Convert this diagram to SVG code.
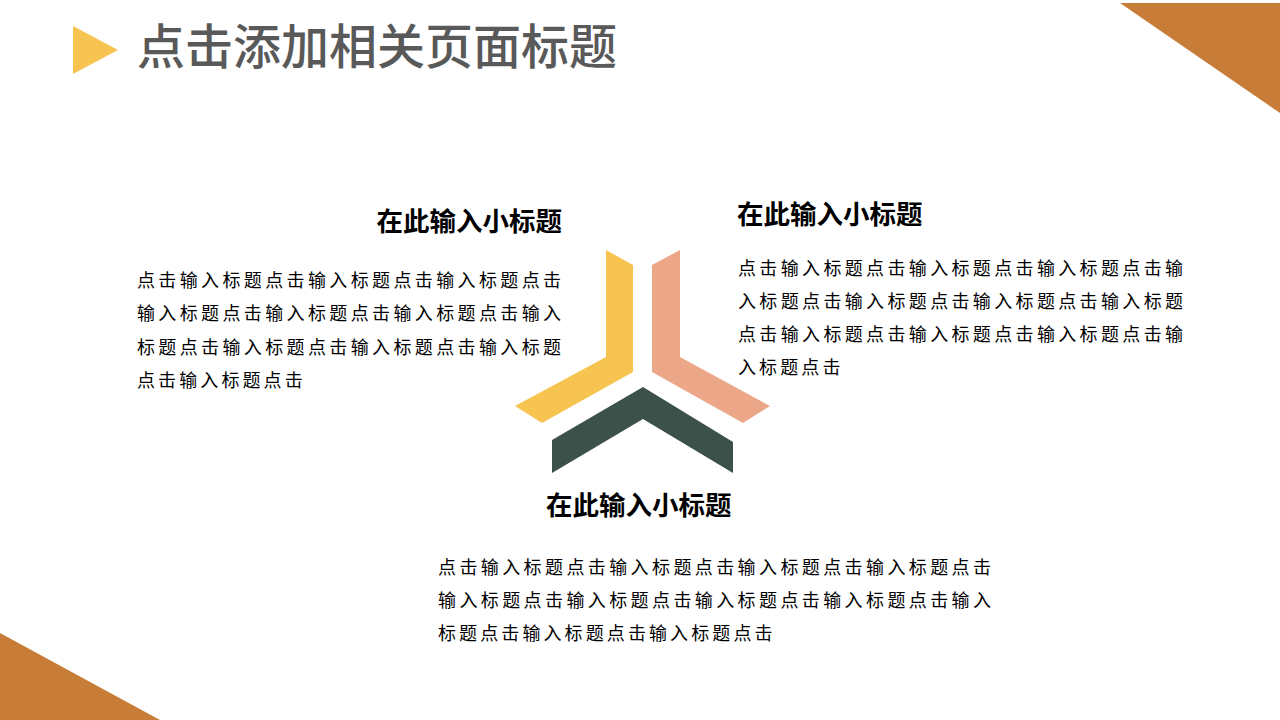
<svg xmlns="http://www.w3.org/2000/svg" width="1280" height="720" viewBox="0 0 1280 720">
<style>
.title{font-family:"Noto Sans CJK SC","Noto Sans",sans-serif;font-size:48px;font-weight:500;fill:#595959}
.sub{font-family:"Noto Sans CJK SC","Noto Sans",sans-serif;font-size:26.5px;font-weight:bold;fill:#000}
.body{font-family:"Noto Sans CJK SC","Noto Sans",sans-serif;font-size:18px;fill:#000}
.last{letter-spacing:3.1px}
</style>
<rect width="1280" height="720" fill="#fff"/>
<g id="corners">
<polygon points="1120,3 1280,3 1280,113" fill="#C77D37"/>
<polygon points="0,633 160,720 0,720" fill="#C77D37"/>
</g>
<g id="title">
<polygon points="73,26 118,50 73,74" fill="#F7C452"/>
<text class="title" x="137" y="64">点击添加相关页面标题</text>
</g>
<g id="center-shape">
<polygon id="arm-yellow" points="606,250 633,265 633,372 542,423 515,406 606,357" fill="#F7C452"/>
<polygon id="arm-pink" points="680,250 652,265 652,372 743,423 770,406 680,357" fill="#EBA788"/>
<polygon id="arm-dark" points="643,387 733,442 733,473 643,419 552,473 552,440" fill="#3B5149"/>
</g>
<g id="node-left">
<text class="sub" x="562" y="231" text-anchor="end">在此输入小标题</text>
<text class="body" x="137" y="287" textLength="424" lengthAdjust="spacing">点击输入标题点击输入标题点击输入标题点击</text>
<text class="body" x="137" y="320" textLength="424" lengthAdjust="spacing">输入标题点击输入标题点击输入标题点击输入</text>
<text class="body" x="137" y="353.5" textLength="424" lengthAdjust="spacing">标题点击输入标题点击输入标题点击输入标题</text>
<text class="body last" x="137" y="387">点击输入标题点击</text>
</g>
<g id="node-right">
<text class="sub" x="737" y="224">在此输入小标题</text>
<text class="body" x="738" y="274.5" textLength="445" lengthAdjust="spacing">点击输入标题点击输入标题点击输入标题点击输</text>
<text class="body" x="738" y="307.5" textLength="445" lengthAdjust="spacing">入标题点击输入标题点击输入标题点击输入标题</text>
<text class="body" x="738" y="341" textLength="445" lengthAdjust="spacing">点击输入标题点击输入标题点击输入标题点击输</text>
<text class="body last" x="738" y="374">入标题点击</text>
</g>
<g id="node-bottom">
<text class="sub" x="546" y="515">在此输入小标题</text>
<text class="body" x="438" y="573.5" textLength="553" lengthAdjust="spacing">点击输入标题点击输入标题点击输入标题点击输入标题点击</text>
<text class="body" x="438" y="606.5" textLength="553" lengthAdjust="spacing">输入标题点击输入标题点击输入标题点击输入标题点击输入</text>
<text class="body last" x="438" y="640">标题点击输入标题点击输入标题点击</text>
</g>
<g id="connectors"></g>
</svg>
